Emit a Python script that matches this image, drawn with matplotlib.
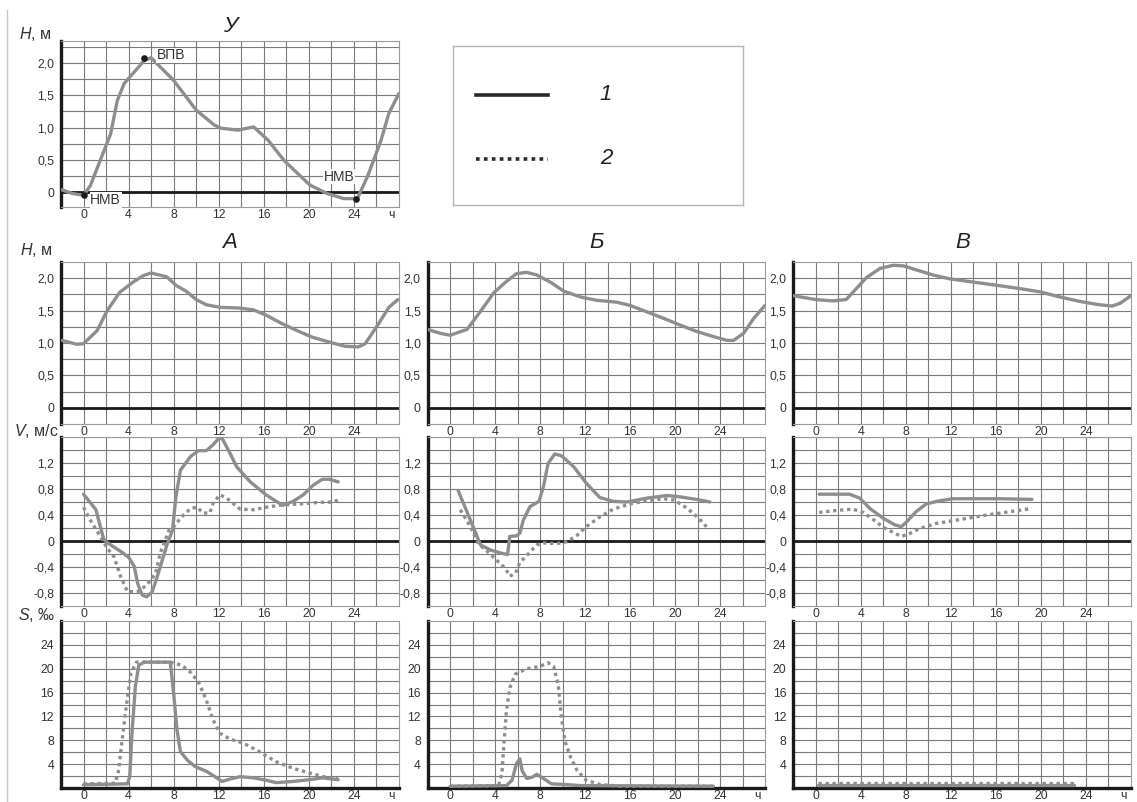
import numpy as np
import matplotlib
matplotlib.use("Agg")
import matplotlib.pyplot as plt
from matplotlib.lines import Line2D

plt.rcParams['font.family'] = ['Liberation Sans', 'DejaVu Sans']
plt.rcParams['mathtext.fontset'] = 'custom'
plt.rcParams['mathtext.it'] = 'Liberation Sans:italic'
plt.rcParams['mathtext.rm'] = 'Liberation Sans'

# ---------------- data ----------------
# top panel "У": water level
u_h_x = [-2, -1, 0, 0.6, 1.5, 2.4, 3.0, 3.6, 4.5, 5.4, 6.0, 8.0, 10.0, 11.6, 12.2, 13.7, 15.1,
         16.4, 17.8, 19.3, 20.1, 21.6, 23.1, 24.3, 25.2, 26.4, 27.1, 28.0]
u_h_y = [0.04, -0.02, -0.05, 0.10, 0.50, 0.90, 1.42, 1.68, 1.86, 2.04, 2.08, 1.73, 1.27, 1.04, 0.99,
         0.96, 1.01, 0.80, 0.49, 0.24, 0.11, -0.02, -0.10, -0.10, 0.24, 0.80, 1.22, 1.53]
event_x = [0.0, 5.4, 24.2]
event_y = [-0.05, 2.08, -0.10]
event_labels = ['НМВ', 'ВПВ', 'НМВ']

# water level at stations А, Б, В
a_h_x = [-1.9, -0.6, 0, 1.2, 2.1, 3.2, 4.4, 5.3, 6.0, 7.4, 8.2, 9.1, 10.0, 10.9, 12.1, 13.8, 15.1,
         16.2, 17.6, 19.1, 20.3, 22.1, 23.2, 24.4, 25.0, 26.2, 27.1, 27.9]
a_h_y = [1.04, 0.98, 0.99, 1.19, 1.50, 1.78, 1.94, 2.04, 2.08, 2.02, 1.89, 1.80, 1.67, 1.59, 1.55,
         1.54, 1.51, 1.43, 1.30, 1.18, 1.09, 1.00, 0.95, 0.94, 0.99, 1.30, 1.55, 1.67]
b_h_x = [-2, -0.9, 0, 1.5, 2.7, 3.9, 5.0, 5.9, 6.8, 7.7, 8.9, 10.1, 11.6, 13.0, 14.8, 16.0, 17.5,
         19.0, 20.4, 21.9, 23.4, 24.6, 25.2, 26.1, 27.0, 28.0]
b_h_y = [1.21, 1.15, 1.12, 1.21, 1.49, 1.78, 1.95, 2.07, 2.09, 2.05, 1.94, 1.80, 1.71, 1.66, 1.63,
         1.58, 1.48, 1.38, 1.28, 1.18, 1.10, 1.04, 1.04, 1.15, 1.38, 1.58]
v_h_x = [-2, 0, 1.5, 2.7, 3.6, 4.5, 5.7, 6.9, 7.8, 8.9, 10.4, 11.9, 14.0, 16.1, 18.1, 19.9, 21.7,
         23.5, 25.2, 26.3, 27.0, 28.0]
v_h_y = [1.73, 1.67, 1.65, 1.67, 1.84, 2.01, 2.15, 2.20, 2.19, 2.13, 2.05, 1.99, 1.94, 1.89, 1.84,
         1.79, 1.71, 1.64, 1.59, 1.57, 1.61, 1.73]

# current velocity, series 1 (solid) and 2 (dotted)
a_v1_x = [0, 1.1, 1.8, 2.4, 3.3, 4.0, 4.5, 4.8, 5.2, 5.6, 6.1, 6.5, 7.0, 7.4, 7.9, 8.2, 8.6, 9.5,
          10.2, 10.9, 11.5, 12.0, 12.3, 13.0, 13.6, 14.8, 16.2, 17.1, 17.7, 18.6, 19.5, 20.4, 21.2,
          21.8, 22.6]
a_v1_y = [0.72, 0.48, 0.02, -0.06, -0.16, -0.25, -0.39, -0.65, -0.83, -0.86, -0.78, -0.57, -0.29,
          -0.06, 0.17, 0.68, 1.09, 1.30, 1.39, 1.39, 1.48, 1.58, 1.58, 1.35, 1.14, 0.91, 0.71, 0.61,
          0.55, 0.61, 0.71, 0.86, 0.95, 0.95, 0.91]
a_v2_x = [0, 0.6, 1.5, 2.1, 2.7, 3.3, 3.9, 4.8, 5.6, 6.4, 6.8, 7.6, 8.0, 8.7, 9.5, 10.1, 10.6, 11.2,
          11.5, 12.1, 12.7, 13.9, 15.1, 16.2, 17.4, 19.2, 20.6, 22.1, 22.6]
a_v2_y = [0.52, 0.32, 0.07, -0.11, -0.24, -0.55, -0.78, -0.78, -0.68, -0.50, -0.19, 0.17, 0.22,
          0.37, 0.50, 0.52, 0.43, 0.43, 0.58, 0.71, 0.66, 0.49, 0.48, 0.52, 0.55, 0.57, 0.59, 0.60,
          0.63]
b_v1_x = [0.7, 1.8, 2.7, 3.6, 4.4, 5.1, 5.3, 5.9, 6.2, 6.5, 7.1, 7.9, 8.3, 8.7, 9.3, 9.9, 11.0,
          12.1, 13.3, 14.5, 15.7, 17.5, 19.3, 20.4, 21.9, 23.1]
b_v1_y = [0.78, 0.32, -0.06, -0.14, -0.18, -0.21, 0.07, 0.08, 0.12, 0.32, 0.53, 0.61, 0.84, 1.19,
          1.34, 1.31, 1.14, 0.89, 0.67, 0.61, 0.60, 0.66, 0.70, 0.68, 0.64, 0.60]
b_v2_x = [0.9, 1.8, 2.5, 3.3, 4.1, 4.9, 5.3, 5.8, 6.2, 7.0, 7.7, 8.3, 9.5, 10.4, 11.3, 12.1, 13.3,
          14.5, 16.0, 17.5, 19.0, 19.9, 20.7, 21.6, 22.2, 22.8]
b_v2_y = [0.48, 0.22, -0.04, -0.16, -0.29, -0.42, -0.54, -0.50, -0.33, -0.19, -0.06, -0.03, -0.04,
          -0.01, 0.09, 0.22, 0.37, 0.49, 0.57, 0.62, 0.65, 0.63, 0.55, 0.43, 0.33, 0.22]
v_v1_x = [0.3, 3.0, 3.9, 4.8, 6.0, 7.0, 7.6, 8.1, 8.9, 9.8, 11.0, 12.2, 14.3, 16.4, 19.2]
v_v1_y = [0.72, 0.72, 0.66, 0.50, 0.35, 0.25, 0.22, 0.30, 0.45, 0.57, 0.62, 0.65, 0.65, 0.65, 0.64]
v_v2_x = [0.3, 1.8, 3.3, 4.2, 5.1, 6.0, 6.9, 7.6, 8.4, 9.2, 10.7, 12.8, 15.2, 17.2, 19.2]
v_v2_y = [0.44, 0.47, 0.49, 0.44, 0.33, 0.21, 0.13, 0.07, 0.12, 0.19, 0.27, 0.33, 0.40, 0.45, 0.50]

# salinity, series 1 (solid) and 2 (dotted)
a_s1_x = [0, 3.9, 4.1, 4.3, 4.6, 4.9, 5.4, 6.5, 7.7, 8.0, 8.3, 8.6, 9.2, 9.9, 10.9, 11.5, 12.3, 13.0,
          13.9, 15.1, 16.2, 17.1, 18.6, 20.1, 21.2, 22.6]
a_s1_y = [0.55, 0.7, 1.9, 9.2, 17.0, 20.6, 21.1, 21.1, 21.1, 15.8, 9.7, 6.1, 4.7, 3.6, 2.8, 2.1, 1.1,
          1.5, 1.9, 1.7, 1.3, 0.9, 1.1, 1.4, 1.7, 1.4]
a_s2_x = [0, 2.8, 3.1, 3.5, 3.9, 4.2, 4.7, 5.9, 7.7, 8.7, 9.5, 10.2, 10.9, 11.5, 12.1, 13.0, 14.2,
          15.6, 17.1, 18.6, 20.1, 21.5, 22.6]
a_s2_y = [0.7, 0.8, 2.8, 9.2, 15.3, 19.2, 21.1, 21.1, 21.1, 20.6, 19.4, 17.8, 14.7, 11.4, 9.2, 8.2,
          7.5, 6.1, 4.4, 3.3, 2.5, 1.8, 1.6]
b_s1_x = [0, 5.0, 5.5, 5.9, 6.2, 6.4, 6.8, 7.3, 7.7, 8.3, 9.0, 10.1, 11.6, 23.4]
b_s1_y = [0.3, 0.4, 1.3, 4.1, 4.9, 2.9, 1.6, 1.8, 2.3, 1.6, 0.7, 0.6, 0.4, 0.3]
b_s2_x = [0, 4.3, 4.6, 4.8, 5.0, 5.3, 5.8, 6.8, 8.0, 8.7, 9.2, 9.6, 9.9, 10.2, 10.7, 11.3, 12.1,
          13.3, 15.1, 23.4]
b_s2_y = [0.3, 0.4, 2.4, 7.9, 12.9, 16.8, 19.1, 20.0, 20.4, 21.0, 20.4, 17.4, 11.8, 7.9, 5.2, 2.9,
          1.3, 0.6, 0.3, 0.3]
v_s1_x = [0.2, 22.9]
v_s1_y = [0.45, 0.45]
v_s2_x = [0.2, 22.9]
v_s2_y = [0.8, 0.8]

hour_ticks = [0, 4, 8, 12, 16, 20, 24]
h_ticks = [0, 0.5, 1.0, 1.5, 2.0]
h_labels = ['0', '0,5', '1,0', '1,5', '2,0']
v_ticks = [-0.8, -0.4, 0, 0.4, 0.8, 1.2]
v_labels = ['-0,8', '-0,4', '0', '0,4', '0,8', '1,2']
s_ticks = [4, 8, 12, 16, 20, 24]
s_labels = ['4', '8', '12', '16', '20', '24']
col_titles = ['А', 'Б', 'В']
legend_labels = ['1', '2']

# ---------------- figure ----------------
W, H = 1137, 802
fig = plt.figure(figsize=(W / 100, H / 100), dpi=100)

LINE_C = '#8e8e8e'
GRID_C = '#7a7a7a'
TXT_C = '#333333'
SOLID = dict(color=LINE_C, lw=2.4, solid_capstyle='round', solid_joinstyle='round')
DOTTED = dict(color=LINE_C, lw=2.4, linestyle=(0, (1, 1.1)), dash_capstyle='butt')


def ax_px(x0, y0, x1, y1):
    return fig.add_axes([x0 / W, 1 - y1 / H, (x1 - x0) / W, (y1 - y0) / H])


def style(ax, ylim, ygrid, yt, yl, xlab_ch=False, zero_line=True, bottom_black=False):
    ax.set_xlim(-2, 28)
    ax.set_ylim(*ylim)
    for gx in np.arange(0, 27, 2):
        ax.axvline(gx, color=GRID_C, lw=0.8, zorder=0.5)
    for gy in ygrid:
        if ylim[0] < gy < ylim[1]:
            ax.axhline(gy, color=GRID_C, lw=0.8, zorder=0.5)
    xt = list(hour_ticks)
    xl = [str(t) for t in hour_ticks]
    if xlab_ch:
        xt.append(27.3)
        xl.append('ч')
    ax.set_xticks(xt)
    ax.set_xticklabels(xl)
    ax.set_yticks(yt)
    ax.set_yticklabels(yl)
    ax.tick_params(which='both', length=0, labelsize=8.8, colors=TXT_C)
    ax.tick_params(axis='x', pad=1.5)
    ax.tick_params(axis='y', pad=5)
    for s in ['top', 'right', 'bottom']:
        ax.spines[s].set_color('#9a9a9a')
        ax.spines[s].set_linewidth(0.8)
    ax.spines['left'].set_color('#1a1a1a')
    ax.spines['left'].set_linewidth(2.4)
    if bottom_black:
        ax.spines['bottom'].set_color('#1a1a1a')
        ax.spines['bottom'].set_linewidth(2.4)
    if zero_line:
        ax.axhline(0, color='#1a1a1a', lw=2.0, zorder=2)


h_grid = np.arange(-0.25, 2.3, 0.25)
v_grid = np.arange(-1.0, 1.61, 0.2)
s_grid = np.arange(0, 28.1, 2)

# top panel
axu = ax_px(61, 41, 399, 207)
style(axu, (-0.23, 2.34), h_grid, h_ticks, h_labels, xlab_ch=True)
axu.plot(u_h_x, u_h_y, **SOLID, zorder=3)
axu.scatter(event_x, event_y, s=14, color='#1a1a1a', zorder=5)
bbox = dict(facecolor='white', edgecolor='none', pad=0.5)
axu.text(event_x[0] + 0.6, event_y[0] - 0.07, event_labels[0], fontsize=10, color=TXT_C,
         ha='left', va='center', bbox=bbox, zorder=6)
axu.text(event_x[1] + 1.1, event_y[1] + 0.04, event_labels[1], fontsize=10, color=TXT_C,
         ha='left', va='center', bbox=bbox, zorder=6)
axu.text(event_x[2] - 0.15, event_y[2] + 0.34, event_labels[2], fontsize=10, color=TXT_C,
         ha='right', va='center', bbox=bbox, zorder=6)
fig.text(230 / W, 1 - 27 / H, 'У', fontsize=16, style='italic', ha='center', va='center',
         color='#222222')

# legend box
axl = ax_px(453, 46, 743, 205)
axl.set_xlim(0, 1)
axl.set_ylim(0, 1)
axl.set_xticks([])
axl.set_yticks([])
for s in axl.spines.values():
    s.set_color('#b5b5b5')
    s.set_linewidth(1.0)
lx = [(476 - 453) / 290, (548 - 453) / 290]
axl.add_line(Line2D(lx, [1 - (95 - 46) / 159] * 2, color='#2a2a2a', lw=2.6))
axl.add_line(Line2D(lx, [1 - (159 - 46) / 159] * 2, color='#2a2a2a', lw=2.6,
                    linestyle=(0, (1, 1.2)), dash_capstyle='butt'))
axl.text((606 - 453) / 290, 1 - (95 - 46) / 159, legend_labels[0], fontsize=16, style='italic',
         ha='center', va='center', color='#222222')
axl.text((606 - 453) / 290, 1 - (159 - 46) / 159, legend_labels[1], fontsize=16, style='italic',
         ha='center', va='center', color='#222222')

# page border line
fig.add_artist(Line2D([7 / W, 7 / W], [0, 1 - 10 / H], color='#c8c8c8', lw=1.0))

# axis labels
lab_kw = dict(fontsize=11.5, ha='center', va='center', color=TXT_C)
fig.text(35 / W, 1 - 34 / H, r'$\mathit{H}$, м', **lab_kw)
fig.text(36 / W, 1 - 250 / H, r'$\mathit{H}$, м', **lab_kw)
fig.text(36 / W, 1 - 431 / H, r'$\mathit{V}$, м/с', **lab_kw)
fig.text(37 / W, 1 - 615 / H, r'$\mathit{S}$, ‰', **lab_kw)

cols_x = [(61, 399), (427.7, 765), (793.3, 1131)]
title_x = [230, 597, 963]
h_data = [(a_h_x, a_h_y), (b_h_x, b_h_y), (v_h_x, v_h_y)]
v_data = [(a_v1_x, a_v1_y, a_v2_x, a_v2_y), (b_v1_x, b_v1_y, b_v2_x, b_v2_y),
          (v_v1_x, v_v1_y, v_v2_x, v_v2_y)]
s_data = [(a_s1_x, a_s1_y, a_s2_x, a_s2_y), (b_s1_x, b_s1_y, b_s2_x, b_s2_y),
          (v_s1_x, v_s1_y, v_s2_x, v_s2_y)]

for i, (x0, x1) in enumerate(cols_x):
    fig.text(title_x[i] / W, 1 - 243 / H, col_titles[i], fontsize=16, style='italic',
             ha='center', va='center', color='#222222')
    axh = ax_px(x0, 262, x1, 424)
    style(axh, (-0.25, 2.25), h_grid, h_ticks, h_labels)
    axh.plot(*h_data[i], **SOLID, zorder=3)

    axv = ax_px(x0, 437, x1, 606)
    style(axv, (-1.0, 1.6), v_grid, v_ticks, v_labels)
    x1v, y1v, x2v, y2v = v_data[i]
    axv.plot(x2v, y2v, **DOTTED, zorder=3)
    axv.plot(x1v, y1v, **SOLID, zorder=4)

    axs = ax_px(x0, 621, x1, 788)
    style(axs, (0, 28), s_grid, s_ticks, s_labels, xlab_ch=True, zero_line=False,
          bottom_black=True)
    x1s, y1s, x2s, y2s = s_data[i]
    axs.plot(x2s, y2s, **DOTTED, zorder=3)
    axs.plot(x1s, y1s, **SOLID, zorder=4)

fig.savefig('out.png', dpi=100)
